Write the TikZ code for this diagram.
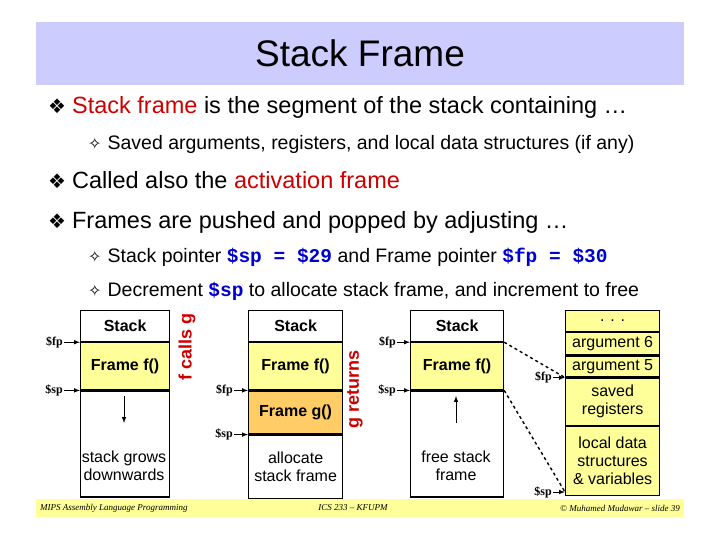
\documentclass[tikz,border=0pt]{standalone}
\usepackage{fontspec}
\usetikzlibrary{positioning}
\setmainfont{Liberation Sans}
\setmonofont{Liberation Mono}
\newfontfamily\symfont{DejaVu Sans}
\newfontfamily\serfont{Liberation Serif}
\definecolor{titlebg}{RGB}{204,204,255}
\definecolor{footbg}{RGB}{255,255,153}
\definecolor{framef}{RGB}{255,255,153}
\definecolor{frameg}{RGB}{255,204,102}
\definecolor{hilite}{RGB}{204,0,0}
\definecolor{regblue}{RGB}{0,0,204}
\newcommand{\mainbullet}{{\symfont\fontsize{20}{20}\selectfont ❖}\hspace{6pt}}
\newcommand{\subbullet}{{\symfont\fontsize{16}{16}\selectfont ✧}\hspace{6pt}}
\newcommand{\reg}[1]{{\ttfamily\bfseries\color{regblue}#1}}
\tikzset{
  cell/.style={draw, line width=1.2pt, minimum width=#1, inner sep=0pt, align=center, font=\fontsize{16}{18}\selectfont},
  cell/.default=89pt,
  ptr/.style={-latex, line width=1pt},
  ptrlabel/.style={font=\serfont\bfseries\fontsize{12}{12}\selectfont, anchor=east, inner sep=1pt},
  bul/.style={anchor=base west, inner sep=0pt, font=\fontsize{23.5}{23.5}\selectfont},
  subbul/.style={anchor=base west, inner sep=0pt, font=\fontsize{19.5}{19.5}\selectfont},
  sidenote/.style={rotate=90, text=hilite, font=\bfseries\fontsize{18}{18}\selectfont},
  footnote/.style={font=\serfont\itshape\fontsize{9}{9}\selectfont, inner sep=0pt}
}
\begin{document}
\begin{tikzpicture}[x=1pt,y=-1pt]
    \useasboundingbox (0,0) rectangle (720,540);
    % title and footer bands
    \fill[titlebg] (36,22) rectangle (684,85);
    \node[font=\fontsize{37}{37}\selectfont] (title) at (360,53) {Stack Frame};
    \fill[footbg] (36,499) rectangle (684,517);
    \node[footnote, anchor=west] (footl) at (40,508) {MIPS Assembly Language Programming};
    \node[footnote] (footc) at (353,508) {ICS 233 – KFUPM};
    \node[footnote, anchor=east] (footr) at (680,508) {© Muhamed Mudawar – slide 39};
    % bullet text
    \node[bul] (b1) at (48,114) {\mainbullet{\color{hilite}Stack frame} is the segment of the stack containing …};
    \node[subbul] (b1a) at (88,150) {\subbullet Saved arguments, registers, and local data structures (if any)};
    \node[bul] (b2) at (48,189) {\mainbullet Called also the {\color{hilite}activation frame}};
    \node[bul] (b3) at (48,229) {\mainbullet Frames are pushed and popped by adjusting …};
    \node[subbul] (b3a) at (88,262) {\subbullet Stack pointer \reg{\$sp = \$29} and Frame pointer \reg{\$fp = \$30}};
    \node[subbul] (b3b) at (88,296) {\subbullet Decrement \reg{\$sp} to allocate stack frame, and increment to free};
    % first stack: f running
    \node[cell, minimum height=31pt, anchor=north west] (s1) at (80,310) {\bfseries Stack};
    \node[cell, minimum height=47pt, fill=framef, anchor=north] (f1) at (s1.south) {\bfseries Frame f()};
    \node[cell, minimum height=106pt, anchor=north] (e1) at (f1.south) {};
    \node[font=\fontsize{16}{18}\selectfont, align=center] (t1) at (124,466) {stack grows\\downwards};
    \draw[-latex, line width=1pt] (124,396) -- (124,423);
    \node[ptrlabel, left=16pt of f1.north west] (fp1) {\$fp};
    \node[ptrlabel, left=16pt of f1.south west] (sp1) {\$sp};
    \draw[ptr] (fp1.east) -- (f1.north west);
    \draw[ptr] (sp1.east) -- (f1.south west);
    \node[sidenote] (calls) at (187,347) {f calls g};
    % second stack: g allocated
    \node[cell=94pt, minimum height=31pt, anchor=north west] (s2) at (248,310) {\bfseries Stack};
    \node[cell=94pt, minimum height=47pt, fill=framef, anchor=north] (f2) at (s2.south) {\bfseries Frame f()};
    \node[cell=94pt, minimum height=43pt, fill=frameg, anchor=north] (g2) at (f2.south) {\bfseries Frame g()};
    \node[cell=94pt, minimum height=63pt, anchor=north] (e2) at (g2.south) {allocate\\stack frame};
    \node[ptrlabel, left=14pt of g2.north west] (fp2) {\$fp};
    \node[ptrlabel, left=14pt of g2.south west] (sp2) {\$sp};
    \draw[ptr] (fp2.east) -- (g2.north west);
    \draw[ptr] (sp2.east) -- (g2.south west);
    \node[sidenote] (returns) at (355,389) {g returns};
    % third stack: g freed
    \node[cell=93pt, minimum height=31pt, anchor=north west] (s3) at (410,310) {\bfseries Stack};
    \node[cell=93pt, minimum height=47pt, fill=framef, anchor=north] (f3) at (s3.south) {\bfseries Frame f()};
    \node[cell=93pt, minimum height=106pt, anchor=north] (e3) at (f3.south) {};
    \node[font=\fontsize{16}{18}\selectfont, align=center] (t3) at (456,466) {free stack\\frame};
    \draw[-latex, line width=1pt] (456,423) -- (456,396);
    \node[ptrlabel, left=13pt of f3.north west] (fp3) {\$fp};
    \node[ptrlabel, left=13pt of f3.south west] (sp3) {\$sp};
    \draw[ptr] (fp3.east) -- (f3.north west);
    \draw[ptr] (sp3.east) -- (f3.south west);
    % frame layout
    \node[cell=94pt, minimum height=21pt, fill=framef, anchor=north west] (dots) at (565,310) {. . .};
    \node[cell=94pt, minimum height=22pt, fill=framef, anchor=north] (arg6) at (dots.south) {argument 6};
    \node[cell=94pt, minimum height=21pt, fill=framef, anchor=north] (arg5) at (arg6.south) {argument 5};
    \node[cell=94pt, minimum height=47pt, fill=framef, anchor=north] (saved) at (arg5.south) {saved\\registers};
    \node[cell=94pt, minimum height=69pt, fill=framef, anchor=north] (local) at (saved.south) {local data\\structures\\\& variables};
    \coordinate (spend) at ([yshift=4pt]local.south west);
    \node[ptrlabel, left=12pt of saved.north west] (fp4) {\$fp};
    \node[ptrlabel, left=12pt of spend] (sp4) {\$sp};
    \draw[ptr] (fp4.east) -- (saved.north west);
    \draw[ptr] (sp4.east) -- (spend);
    \draw[dashed, line width=1.4pt] (f3.north east) -- (saved.north west);
    \draw[dashed, line width=1.4pt] (f3.south east) -- (spend);
\end{tikzpicture}
\end{document}
